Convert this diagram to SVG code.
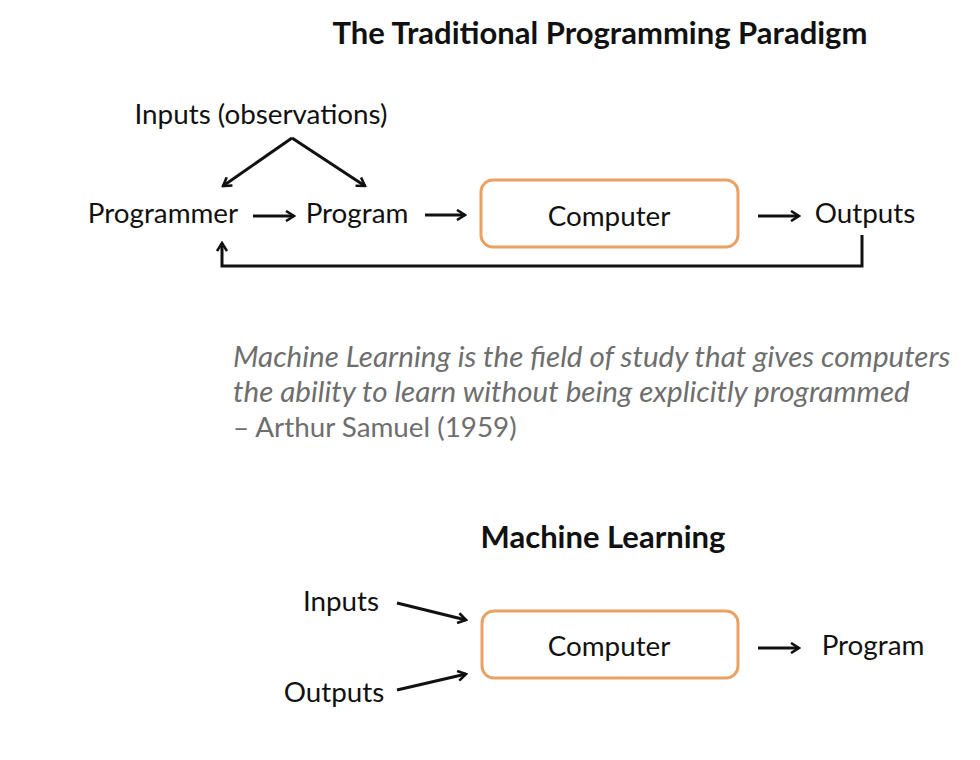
<svg xmlns="http://www.w3.org/2000/svg" width="980" height="760" viewBox="0 0 980 760">
<defs>
<style>
.t{font-family:Lato,"Open Sans",sans-serif;font-size:27.8px;fill:#111}
.b{font-weight:bold;font-size:31px}
.q{font-family:Lato,"Open Sans",sans-serif;font-size:27.8px;fill:#6e6e6e}
.i{font-style:italic;font-size:29.6px}
.box{fill:#fff;stroke:#E9A263;stroke-width:3}
.c{fill:none;stroke:#111;stroke-width:3}
</style>
<marker id="ah" viewBox="0 0 12 12" refX="10" refY="6" markerWidth="12" markerHeight="12" markerUnits="userSpaceOnUse" orient="auto">
<path d="M2,1 L10,6 L2,11" fill="none" stroke="#111" stroke-width="2.6"/>
</marker>
</defs>
<rect width="980" height="760" fill="#fff"/>
<text class="t b" x="600" y="44" text-anchor="middle">The Traditional Programming Paradigm</text>
<g id="inputs-obs"><text class="t" x="261" y="124" text-anchor="middle">Inputs (observations)</text></g>
<g id="programmer"><text class="t" x="163" y="223" text-anchor="middle">Programmer</text></g>
<g id="program1"><text class="t" x="357" y="223" text-anchor="middle">Program</text></g>
<g id="computer1"><rect class="box" x="481" y="180" width="257" height="67" rx="12"/><text class="t" x="609" y="226" text-anchor="middle">Computer</text></g>
<g id="outputs1"><text class="t" x="865" y="223" text-anchor="middle">Outputs</text></g>
<g id="quote">
<text class="q i" x="233" y="367">Machine Learning is the field of study that gives computers</text>
<text class="q i" x="233" y="402">the ability to learn without being explicitly programmed</text>
<text class="q" x="233" y="437">– Arthur Samuel (1959)</text>
</g>
<text class="t b" x="603" y="548" text-anchor="middle">Machine Learning</text>
<g id="inputs2"><text class="t" x="341" y="611" text-anchor="middle">Inputs</text></g>
<g id="outputs2"><text class="t" x="334" y="702" text-anchor="middle">Outputs</text></g>
<g id="computer2"><rect class="box" x="482" y="611" width="256" height="67" rx="12"/><text class="t" x="609" y="656" text-anchor="middle">Computer</text></g>
<g id="program2"><text class="t" x="873" y="655" text-anchor="middle">Program</text></g>
<g id="connectors">
<path class="c" d="M292,138 L223,186" marker-end="url(#ah)"/>
<path class="c" d="M292,138 L365,186" marker-end="url(#ah)"/>
<path class="c" d="M253,216 L294,216" marker-end="url(#ah)"/>
<path class="c" d="M425,215 L465,215" marker-end="url(#ah)"/>
<path class="c" d="M758,216 L799,216" marker-end="url(#ah)"/>
<path class="c" d="M862,235 L862,266 L222,266 L222,243" marker-end="url(#ah)"/>
<path class="c" d="M397,603 L466,620" marker-end="url(#ah)"/>
<path class="c" d="M397,690 L466,674" marker-end="url(#ah)"/>
<path class="c" d="M758,648 L799,648" marker-end="url(#ah)"/>
</g>
</svg>
